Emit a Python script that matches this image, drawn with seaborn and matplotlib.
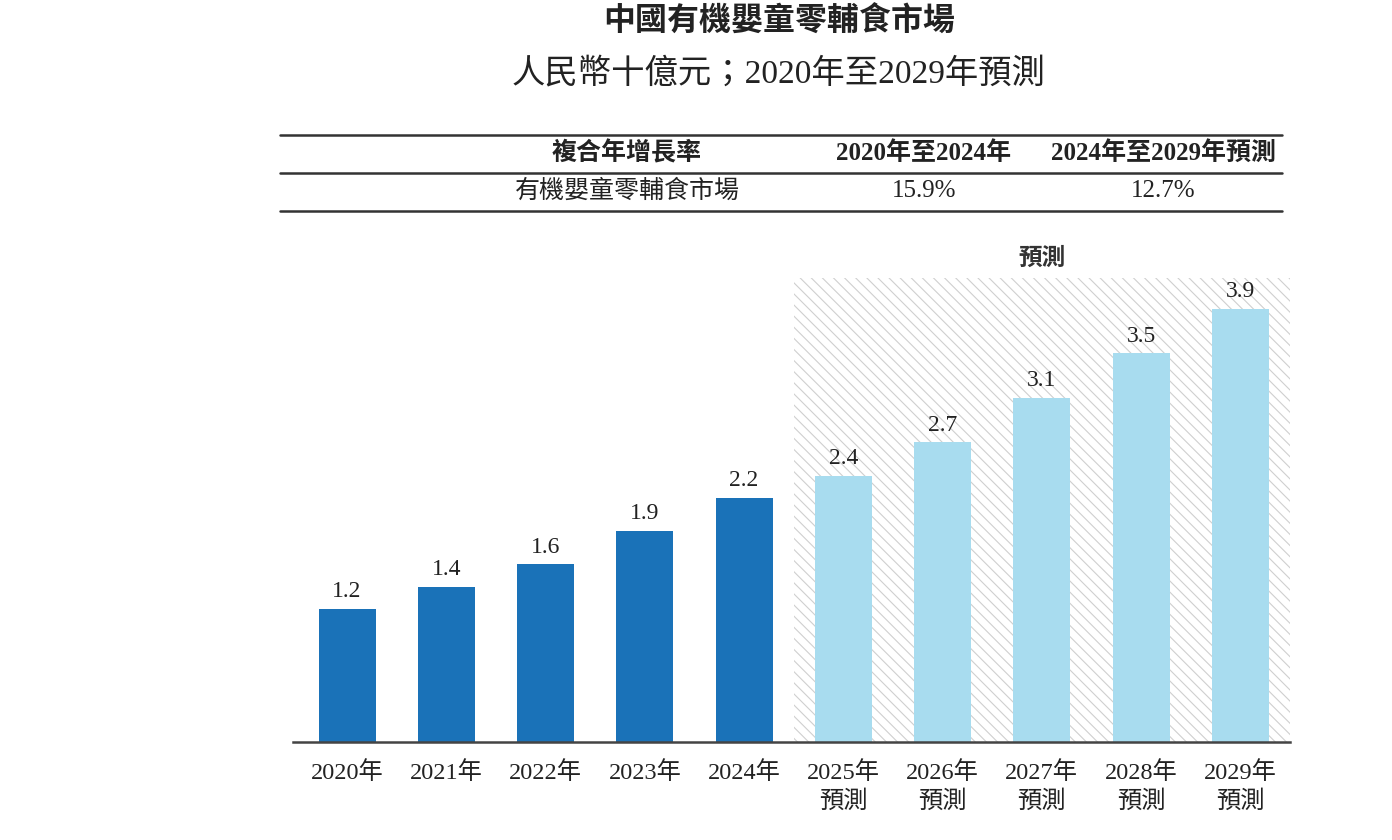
import matplotlib
matplotlib.use("Agg")
import matplotlib.pyplot as plt
import seaborn as sns
import pandas as pd
from matplotlib.lines import Line2D

# ---- data ----
years = ["2020年", "2021年", "2022年", "2023年", "2024年",
         "2025年\n預測", "2026年\n預測", "2027年\n預測", "2028年\n預測", "2029年\n預測"]
values = [1.2, 1.4, 1.6, 1.9, 2.2, 2.4, 2.7, 3.1, 3.5, 3.9]
is_forecast = [False] * 5 + [True] * 5
title = "中國有機嬰童零輔食市場"
subtitle = "人民幣十億元；2020年至2029年預測"
table_header = ["複合年增長率", "2020年至2024年", "2024年至2029年預測"]
table_row = ["有機嬰童零輔食市場", "15.9%", "12.7%"]
forecast_label = "預測"

HIST_COLOR = "#1a72b8"
FC_COLOR = "#a8dcef"

sns.set_theme(style="white")
plt.rcParams["font.family"] = ["Liberation Serif", "Noto Sans CJK TC", "DejaVu Sans"]
plt.rcParams["hatch.linewidth"] = 0.8

SERIF = ["Liberation Serif", "Noto Sans CJK TC"]
SANS = ["Noto Sans CJK TC", "DejaVu Sans"]

fig = plt.figure(figsize=(13.92, 8.4), dpi=100)
ax = fig.add_axes([293 / 1392, 1 - 742 / 840, (1290 - 293) / 1392, (742 - 278) / 840])

df = pd.DataFrame({"year": years, "value": values})
palette = {y: (FC_COLOR if f else HIST_COLOR) for y, f in zip(years, is_forecast)}

# forecast hatched background
ax.axvspan(4.5, 9.5, facecolor="none", edgecolor="#cfcfcf", hatch="\\\\\\",
           linewidth=0, zorder=0)

sns.barplot(data=df, x="year", y="value", hue="year", palette=palette, legend=False,
            width=0.575, ax=ax, zorder=2, saturation=1, linewidth=0)

ax.set_xlim(-0.545, 9.5)
ax.set_ylim(0, 4.18)
ax.set_xlabel("")
ax.set_ylabel("")
ax.set_yticks([])
for s in ["top", "right", "left"]:
    ax.spines[s].set_visible(False)
ax.spines["bottom"].set_color("#444444")
ax.spines["bottom"].set_linewidth(1.8)
ax.tick_params(axis="x", length=0, pad=14)
for lab in ax.get_xticklabels():
    lab.set_fontfamily(SERIF)
    lab.set_fontsize(17.5)
    lab.set_color("#222222")
    lab.set_linespacing(1.35)

for i, v in enumerate(values):
    ax.text(i, v + 0.06, f"{v:.1f}", ha="center", va="bottom", fontsize=17,
            family=SERIF, color="#222222")

ax.text(7.0, 4.36, forecast_label, ha="center", va="center", fontsize=17,
        family=SANS, fontweight="bold", color="#333333", style="italic")

# titles
fig.text(779 / 1392, 1 - 22 / 840, title, ha="center", va="center", fontsize=23,
         family=SANS, fontweight="bold", color="#222222")
fig.text(779 / 1392, 1 - 74 / 840, subtitle, ha="center", va="center", fontsize=24,
         family=SERIF, color="#222222")

# CAGR table
for ypx in (135, 173, 211):
    fig.add_artist(Line2D([280 / 1392, 1282 / 1392], [1 - ypx / 840, 1 - ypx / 840],
                          color="#333333", linewidth=1.8))
cols_x = [627, 924, 1163]
for x, t in zip(cols_x, table_header):
    fig.text(x / 1392, 1 - 153 / 840, t, ha="center", va="center", fontsize=18,
             family=SERIF, fontweight="bold", color="#222222")
for x, t in zip(cols_x, table_row):
    fig.text(x / 1392, 1 - 191 / 840, t, ha="center", va="center", fontsize=18,
             family=SERIF, color="#222222")

fig.savefig("out.png", dpi=100, facecolor="white")
